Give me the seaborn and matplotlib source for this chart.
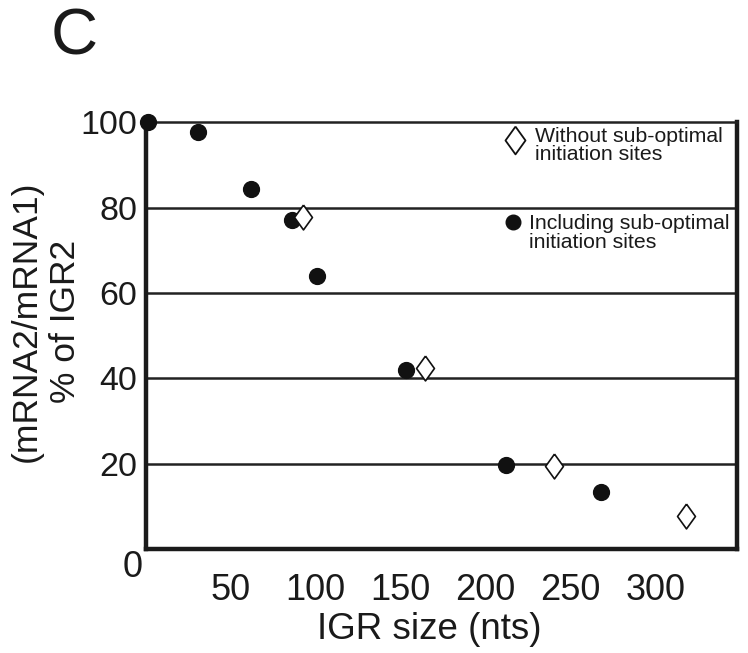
import numpy as np
import pandas as pd
import matplotlib
matplotlib.use("Agg")
import matplotlib.pyplot as plt
import seaborn as sns

# data
igr_incl = [1, 31, 62, 86, 101, 153, 212, 268]
pct_incl = [100, 97.7, 84.3, 77, 64, 42, 19.7, 13.4]
igr_wo = [92.5, 164.5, 240.5, 318]
pct_wo = [77.8, 42.4, 19.5, 7.7]
xticks = [50, 100, 150, 200, 250, 300]
yticks = [20, 40, 60, 80, 100]

sns.set_theme(style="white")
plt.rcParams['font.family'] = ['Liberation Sans', 'DejaVu Sans']

incl = pd.DataFrame({'igr': igr_incl, 'pct': pct_incl})
wo = pd.DataFrame({'igr': igr_wo, 'pct': pct_wo})

fig = plt.figure(figsize=(7.48, 6.53), dpi=100)
ax = fig.add_axes([0.195, 0.159, 0.79, 0.654])

# tall diamond marker
diamond = [(0, 1), (0.72, 0), (0, -1), (-0.72, 0), (0, 1)]
ink = '#1a1a1a'

for y in [20, 40, 60, 80]:
    ax.axhline(y, color='#222222', lw=1.8, zorder=1)

sns.scatterplot(data=incl, x='igr', y='pct', ax=ax, color='#111111', marker='o',
                s=130, edgecolor='#111111', linewidth=1, zorder=3, clip_on=False)
sns.scatterplot(data=wo, x='igr', y='pct', ax=ax, marker=diamond, s=320,
                facecolor='white', edgecolor='#111111', linewidth=1.2, zorder=4, clip_on=False)

ax.set_xlim(0, 348)
ax.set_ylim(0, 100)
ax.set_xticks(xticks)
ax.set_yticks(yticks)
ax.tick_params(axis='x', direction='out', length=5, width=2.5, color='#111111',
               pad=12, labelsize=26, labelcolor=ink)
ax.tick_params(axis='y', length=0, pad=6, labelsize=24.5, labelcolor=ink)
ax.text(-0.022, -0.044, '0', transform=ax.transAxes, ha='center', va='center',
        fontsize=26, color=ink)

for side in ['left', 'bottom', 'right']:
    ax.spines[side].set_linewidth(3.2)
    ax.spines[side].set_color(ink)
ax.spines['top'].set_linewidth(1.8)
ax.spines['top'].set_color('#222222')

ax.set_xlabel('IGR size (nts)', fontsize=26.5, color=ink)
ax.xaxis.set_label_coords(0.48, -0.147)
ax.set_ylabel('(mRNA2/mRNA1)\n% of IGR2', fontsize=25.5, color=ink, linespacing=1.25)
ax.yaxis.set_label_coords(-0.108, 0.534)

# legend, markers beside the first line of each label
ax.plot([0.624], [0.958], transform=ax.transAxes, marker=diamond, markersize=20,
        markerfacecolor='white', markeredgecolor='#111111', markeredgewidth=1.3,
        linestyle='none', clip_on=False)
ax.text(0.658, 0.988, 'Without sub-optimal\ninitiation sites', transform=ax.transAxes,
        ha='left', va='top', fontsize=15.3, color=ink, linespacing=0.95)
ax.plot([0.621], [0.766], transform=ax.transAxes, marker='o', markersize=10.5,
        markerfacecolor='#111111', markeredgecolor='#111111', linestyle='none')
ax.text(0.648, 0.784, 'Including sub-optimal\ninitiation sites', transform=ax.transAxes,
        ha='left', va='top', fontsize=15.3, color=ink, linespacing=0.95)

fig.text(0.099, 0.942, 'C', fontsize=47, color=ink, ha='center', va='center')

fig.savefig('out.png', dpi=100)
